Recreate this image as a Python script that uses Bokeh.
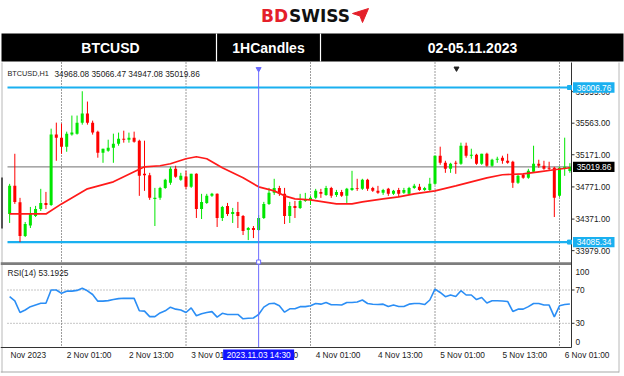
from bokeh.plotting import figure
from bokeh.models import Range1d
from bokeh.embed import file_html
from bokeh.resources import INLINE
from bokeh.core.properties import value

# ---------------- data ----------------
symbol = "BTCUSD"
timeframe = "1HCandles"
period = "02-05.11.2023"
info_name = "BTCUSD,H1"
info_ohlc = "34968.08 35066.47 34947.08 35019.86"

# hourly bars, hours relative to 2023-11-02 00:00
hours = list(range(-10, 99))
open_ = [
    34435, 34784, 34580, 34160, 34290, 34410, 34497, 34572, 34547, 35421,
    35383, 35271, 35421, 35433, 35570, 35683, 35570, 35458, 35196, 35221,
    35258, 35308, 35371, 35358, 35383, 35346, 34935, 34915, 34622, 34635,
    34759, 34822, 34996, 34859, 34900, 34772, 34934, 34497, 34572, 34660,
    34685, 34385, 34535, 34435, 34460, 34410, 34235, 34260, 34235, 34385,
    34560, 34697, 34759, 34685, 34410, 34535, 34510, 34597, 34610, 34635,
    34709, 34672, 34759, 34672, 34709, 34660, 34734, 34759, 34747, 34859,
    34759, 34722, 34697, 34747, 34685, 34734, 34697, 34685, 34759, 34772,
    34734, 34734, 34809, 35159, 35071, 34996, 35071, 35059, 35283, 35159,
    35171, 35059, 35183, 35034, 35109, 35134, 35096, 35084, 34822, 34922,
    34884, 34959, 35059, 35034, 35009, 35009, 34660, 34996, 34968.08]
high = [
    34809, 35183, 34635, 34335, 34522, 34535, 34747, 34709, 35495, 35570,
    35558, 35458, 35658, 35658, 35960, 35832, 35595, 35470, 35246, 35358,
    35433, 35446, 35470, 35446, 35458, 35358, 35346, 34946, 34759, 34772,
    34872, 35021, 35034, 34946, 34971, 34934, 34940, 34685, 34685, 34697,
    34690, 34535, 34572, 34510, 34585, 34422, 34273, 34285, 34422, 34585,
    34759, 34872, 34784, 34759, 34585, 34597, 34685, 34697, 34660, 34747,
    34747, 34784, 34772, 34734, 34734, 34759, 34971, 34872, 34872, 34872,
    34772, 34784, 34747, 34759, 34734, 34759, 34759, 34772, 34809, 34809,
    34772, 34884, 35159, 35271, 35096, 35071, 35096, 35321, 35321, 35246,
    35183, 35183, 35196, 35121, 35146, 35159, 35183, 35096, 34922, 34934,
    34996, 35283, 35109, 35096, 35084, 35021, 35021, 35383, 35066.47]
low = [
    34323, 34560, 34085.34, 34148, 34260, 34397, 34472, 34497, 34535, 35096,
    35183, 35208, 35408, 35421, 35545, 35545, 35421, 35134, 35071, 35208,
    35071, 35283, 35321, 35321, 35321, 34660, 34722, 34610, 34285, 34610,
    34747, 34797, 34884, 34847, 34747, 34759, 34385, 34372, 34560, 34647,
    34273, 34347, 34410, 34323, 34260, 34173, 34110, 34135, 34223, 34372,
    34547, 34672, 34660, 34310, 34323, 34385, 34497, 34585, 34547, 34622,
    34635, 34660, 34635, 34647, 34647, 34572, 34722, 34722, 34734, 34722,
    34709, 34685, 34672, 34660, 34672, 34647, 34685, 34672, 34747, 34722,
    34722, 34722, 34797, 35046, 34946, 34946, 34934, 35046, 35134, 35121,
    35046, 35046, 35021, 35021, 35071, 35059, 35059, 34759, 34809, 34872,
    34872, 34946, 35009, 34984, 34971, 34397, 34647, 34909, 34947.08]
close = [
    34784, 34585, 34160, 34310, 34435, 34497, 34572, 34547, 35421, 35383,
    35271, 35433, 35446, 35570, 35683, 35570, 35446, 35196, 35246, 35258,
    35308, 35371, 35358, 35383, 35333, 34909, 34915, 34635, 34635, 34759,
    34859, 34996, 34897, 34909, 34772, 34934, 34497, 34585, 34660, 34685,
    34385, 34522, 34435, 34460, 34410, 34223, 34260, 34235, 34385, 34560,
    34697, 34759, 34685, 34410, 34535, 34510, 34597, 34622, 34635, 34722,
    34685, 34759, 34660, 34709, 34660, 34747, 34759, 34747, 34859, 34747,
    34722, 34697, 34734, 34685, 34722, 34685, 34734, 34759, 34784, 34734,
    34759, 34809, 35159, 35071, 34996, 35059, 35059, 35283, 35159, 35171,
    35059, 35183, 35034, 35109, 35121, 35096, 35071, 34822, 34909, 34884,
    34971, 35059, 35034, 34996, 34996, 34635, 35009, 35021, 35019.86]

# moving average (red line), read at selected hours
ma_hours = [-10, -3, 0, 5, 10, 14, 16, 19, 21, 24, 26, 28, 31, 35, 38, 41, 43,
            45, 48, 53, 56, 58, 62, 65, 68, 72, 76, 79, 82, 85, 89, 92, 95, 98]
ma_values = [34435, 34435, 34560, 34747, 34834, 34959, 35021, 35034, 35059,
             35121, 35146, 35121, 35009, 34884, 34772, 34722, 34660, 34622,
             34610, 34560, 34560, 34585, 34622, 34647, 34685, 34722, 34784,
             34834, 34884, 34922, 34934, 34959, 34984, 35009]

# RSI(14)
rsi_hours = list(range(-10, 99))
rsi_values = [
    62, 57, 43, 46, 50, 52, 54, 54, 70, 70,
    66, 68.6, 68.6, 69.5, 72, 69, 64.6, 56.6, 56.6, 57.2,
    58.5, 59.6, 60, 60, 60, 45, 44.6, 38, 38, 42.5,
    45, 49.4, 47, 46, 43, 48.6, 39, 41.4, 43, 44,
    37.4, 42, 40.6, 40.6, 40.6, 35.4, 36, 36.4, 40.6, 49.4,
    53.4, 54, 51, 43.4, 47.4, 47.4, 50, 50, 51, 53.8,
    53, 55, 52.3, 52.3, 52, 55, 55, 55.5, 58, 53.8,
    52.8, 52.5, 53, 50.2, 52, 50.2, 50.2, 53, 53.8, 53.8,
    52.5, 58, 71, 67, 62, 63.9, 62.2, 69.2, 64, 64,
    58.5, 61, 54.3, 57, 57, 56.8, 56.2, 44.2, 47, 47,
    50, 53.8, 53.8, 51.9, 51.9, 37.7, 51, 52.5, 53.19]
rsi_label = "RSI(14) 53.1925"

resistance = 36006.76
support = 34085.34
last_close = 35019.86
price_ticks = [33979.00, 34371.00, 34771.00, 35171.00, 35563.00, 35955.00]
rsi_ticks = [0, 30, 70, 100]
rsi_levels = [30, 70]
day_separators = [0, 24, 48, 72, 96]
time_ticks = [1, 13, 25, 37, 49, 61, 73, 85, 97]
time_labels = ["2 Nov 01:00", "2 Nov 13:00", "3 Nov 01:00", "3 Nov 13:00",
               "4 Nov 01:00", "4 Nov 13:00", "5 Nov 01:00", "5 Nov 13:00",
               "6 Nov 01:00"]
first_label = "Nov 2023"
cursor_hour = 38
cursor_label = "2023.11.03 14:30"

# ---------------- layout / style ----------------
W, H = 624, 376
X0 = 61.0          # pixel column of hour 0
PXH = 5.1875       # pixels per hour
PRICE_ROW = 87.0   # row of resistance line
PPP = 12.43        # price units per pixel
RSI30_ROW, RSI70_ROW = 322.8, 289.5
RPP = (RSI30_ROW - RSI70_ROW) / 40.0

FONT = value("Liberation Sans")
UP, DOWN = "#00e600", "#ff0000"
BLUE_LINE = "#1ab0f0"
AX = "#1a1a1a"

p = figure(width=W, height=H,
           x_range=Range1d(-X0 / PXH, (W - X0) / PXH),
           y_range=Range1d(H, 0),
           x_axis_type=None, y_axis_type=None,
           toolbar_location=None, output_backend="svg",
           min_border_left=0, min_border_right=0,
           min_border_top=0, min_border_bottom=0,
           outline_line_color=None,
           background_fill_color="white", border_fill_color="white")
p.extra_x_ranges = {"px": Range1d(0, W)}
p.extra_y_ranges = {
    "price": Range1d(resistance - (H - PRICE_ROW) * PPP, resistance + PRICE_ROW * PPP),
    "rsi": Range1d(30 - (H - RSI30_ROW) / RPP, 70 + RSI70_ROW / RPP),
}


def txt(x, y, s, color=AX, size="8.3px", align="left", bold=False,
        xr="px", yr="default", y_offset=0, font=FONT):
    p.text(x=[x], y=[y], text=[s], text_color=color, text_font=font,
           text_font_size=size, text_align=align, text_baseline="middle",
           text_font_style="bold" if bold else "normal",
           x_range_name=xr, y_range_name=yr, y_offset=y_offset)


# ---- page borders ----
p.segment(x0=[1.5, 618.5], y0=[62, 62], x1=[1.5, 618.5], y1=[372, 372],
          line_color="#b8b8b8", line_width=1, x_range_name="px")
p.segment(x0=[1.5], y0=[177], x1=[1.5], y1=[228], line_color="#555555",
          line_width=2, x_range_name="px")
p.segment(x0=[0], y0=[371.5], x1=[618.5], y1=[371.5], line_color="#a8a8a8",
          line_width=1.2, x_range_name="px")

# ---- logo ----
txt(287.5, 15, "BD", color="#e4202a", size="17px", align="right", bold=True,
    font=value("DejaVu Sans"))
txt(288.5, 15, "SWISS", color="#111111", size="17px", align="left", bold=True,
    font=value("DejaVu Sans"))
p.patch(x=[352, 368, 362, 359.5], y=[13, 8, 22, 15.5], fill_color="#e4202a",
        line_color="#e4202a", x_range_name="px")

# ---- header bar ----
p.quad(left=[1], right=[623], top=[33], bottom=[61], fill_color="black",
       line_color=None, x_range_name="px")
p.segment(x0=[216, 320], y0=[33, 33], x1=[216, 320], y1=[61, 61],
          line_color="white", line_width=1.2, x_range_name="px")
txt(110, 47, symbol, color="white", size="14px", align="center", bold=True)
txt(268, 47, timeframe, color="white", size="14px", align="center", bold=True)
txt(472, 47, period, color="white", size="14px", align="center", bold=True)

# ---- day separators (both panels) ----
p.segment(x0=day_separators, y0=[62] * len(day_separators),
          x1=day_separators, y1=[347] * len(day_separators),
          line_color="#3a3a3a", line_width=1, line_dash="1 2")

# ---- support / resistance / last price lines ----
p.segment(x0=[7, 7], y0=[resistance, support], x1=[571, 571],
          y1=[resistance, support], line_color=BLUE_LINE, line_width=2.2,
          x_range_name="px", y_range_name="price")
p.segment(x0=[7], y0=[last_close], x1=[571], y1=[last_close],
          line_color="#707070", line_width=1, x_range_name="px",
          y_range_name="price")

# ---- candles ----
colors = [UP if c >= o else DOWN for o, c in zip(open_, close)]
p.segment(x0=hours, y0=low, x1=hours, y1=high, line_color=colors,
          line_width=1, y_range_name="price")
p.vbar(x=hours, width=0.58,
       top=[max(o, c) for o, c in zip(open_, close)],
       bottom=[min(o, c) for o, c in zip(open_, close)],
       fill_color=colors, line_color=None, y_range_name="price")

# ---- moving average ----
p.line(ma_hours, ma_values, line_color="#ff1a1a", line_width=1.7,
       y_range_name="price")

# ---- panel separator ----
p.quad(left=[0], right=[571], top=[261.8], bottom=[264.6], fill_color="#7d7d7d",
       line_color=None, x_range_name="px")

# ---- RSI panel ----
p.segment(x0=[7] * 2, y0=rsi_levels, x1=[571] * 2, y1=rsi_levels,
          line_color="#8a8a8a", line_width=1, line_dash="1 2",
          x_range_name="px", y_range_name="rsi")
p.line(rsi_hours, rsi_values, line_color="#2b8ef5", line_width=1.6,
       y_range_name="rsi")

# ---- cursor vertical line ----
p.segment(x0=[cursor_hour], y0=[68], x1=[cursor_hour], y1=[347],
          line_color="#6c6cff", line_width=1)
p.scatter(x=[cursor_hour], y=[68.5], marker="inverted_triangle", size=5,
          fill_color="#6c6cff", line_color="#6c6cff")
p.scatter(x=[cursor_hour], y=[261.5], marker="square", size=4,
          fill_color="white", line_color="#6c6cff")

# chart shift marker
p.scatter(x=[456], y=[68], marker="inverted_triangle", size=5,
          fill_color="#222222", line_color="#222222", x_range_name="px")

# ---- info texts ----
txt(7, 73, info_name, size="7.3px")
txt(54, 73, info_ohlc)
txt(7, 272, rsi_label)

# ---- right axis ----
p.segment(x0=[571], y0=[62], x1=[571], y1=[347], line_color="#333333",
          line_width=1, x_range_name="px")
p.segment(x0=[571] * len(price_ticks), y0=price_ticks,
          x1=[574] * len(price_ticks), y1=price_ticks, line_color="#333333",
          x_range_name="px", y_range_name="price")
for v in price_ticks:
    txt(575, v, f"{v:.2f}", yr="price")
p.segment(x0=[571] * 2, y0=rsi_levels, x1=[574] * 2, y1=rsi_levels,
          line_color="#333333", x_range_name="px", y_range_name="rsi")
for v in rsi_ticks:
    off = 6.5 if v == 100 else (-5.8 if v == 0 else 0)
    txt(575, v, f"{v}", yr="rsi", y_offset=off)

# highlighted price boxes
for v, bg in [(resistance, BLUE_LINE), (last_close, "#000000"), (support, BLUE_LINE)]:
    p.quad(left=[572.5], right=[614], top=[v + 5.2 * PPP], bottom=[v - 5.2 * PPP],
           fill_color=bg, line_color=None, x_range_name="px", y_range_name="price")
    txt(593.5, v, f"{v:.2f}", color="white", align="center", yr="price")
for v in [resistance, support]:
    p.scatter(x=[569], y=[v], marker="square", size=4, fill_color=BLUE_LINE,
              line_color=BLUE_LINE, x_range_name="px", y_range_name="price")

# ---- time axis ----
p.segment(x0=[0], y0=[347], x1=[571], y1=[347], line_color="#333333",
          line_width=1, x_range_name="px")
txt(10, 354.5, first_label)
for h, lab in zip(time_ticks, time_labels):
    txt(h, 354.5, lab, xr="default")
# cursor time box
p.quad(left=[cursor_hour - 35.5 / PXH], right=[cursor_hour + 35.5 / PXH],
       top=[349], bottom=[359.5], fill_color="#1414ff", line_color=None)
txt(cursor_hour, 354.2, cursor_label, color="white", align="center", xr="default")

open("out.html", "w").write(file_html(p, INLINE))
